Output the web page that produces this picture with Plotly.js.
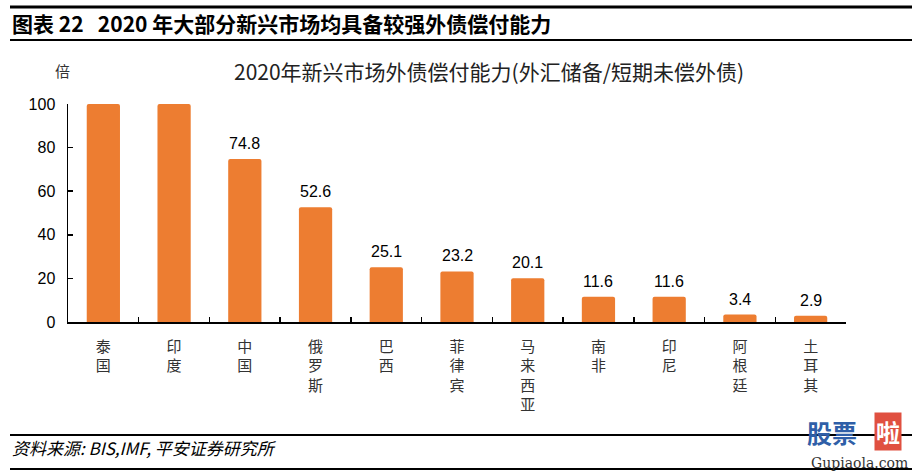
<!DOCTYPE html>
<html><head><meta charset="utf-8">
<script src="https://cdn.plot.ly/plotly-3.0.1.min.js"></script>
<style>html,body{margin:0;padding:0;background:#fff;}#chart{width:919px;height:473px;}</style>
</head><body><div id="chart"></div>
<script>
const categories = ["泰国","印度","中国","俄罗斯","巴西","菲律宾","马来西亚","南非","印尼","阿根廷","土耳其"];
const values = [100,100,74.8,52.6,25.1,23.2,20.1,11.6,11.6,3.4,2.9];
const valueLabels = ["","","74.8","52.6","25.1","23.2","20.1","11.6","11.6","3.4","2.9"];
const yTicks = [0,20,40,60,80,100];

const W=919,H=473,L=68,R=73,T=104,B=151;
const pw=W-L-R, ph=H-T-B;
const px=x=>(x-L)/pw, py=y=>(H-B-y)/ph;

const vertLabels = categories.map(c=>c.split("").join("<br>"));

const data=[{
  type:"bar", x:categories, y:values,
  marker:{color:"#ED7D31",cornerradius:2},
  hoverinfo:"none"
}];
const labelAnns = categories.map((c,i)=>({
  x:c,y:values[i],xref:"x",yref:"y",yanchor:"bottom",xanchor:"center",yshift:5,
  showarrow:false,text:valueLabels[i],
  font:{family:"Liberation Sans, Arial, sans-serif",size:16,color:"#000"}
})).filter(a=>a.text!=="");

const layout={
  width:W,height:H,margin:{l:L,r:R,t:T,b:B},
  paper_bgcolor:"#fff",plot_bgcolor:"#fff",
  showlegend:false,bargap:0.53,
  font:{family:"Liberation Sans, Arial, sans-serif",color:"#000"},
  xaxis:{type:"category",showline:true,linecolor:"#000",linewidth:1.5,
    ticks:"inside",tickson:"boundaries",ticklen:5,tickcolor:"#000",tickwidth:1.5,
    tickvals:categories,ticktext:vertLabels,ticklabelstandoff:10,
    tickfont:{family:"Noto Sans CJK SC",size:15,color:"#333"},
    showgrid:false,zeroline:false,fixedrange:true},
  yaxis:{range:[0,100],showline:true,linecolor:"#000",linewidth:1.5,
    ticks:"inside",ticklen:5,tickcolor:"#000",tickwidth:1.5,tickvals:yTicks,ticklabelstandoff:8,
    tickfont:{family:"Liberation Sans, Arial, sans-serif",size:16,color:"#000"},
    showgrid:false,zeroline:false,fixedrange:true},
  shapes:[
    {type:"line",xref:"paper",yref:"paper",x0:px(10),x1:px(912),y0:py(7),y1:py(7),line:{color:"#000",width:3}},
    {type:"line",xref:"paper",yref:"paper",x0:px(10),x1:px(912),y0:py(40),y1:py(40),line:{color:"#000",width:2}},
    {type:"line",xref:"paper",yref:"paper",x0:px(10),x1:px(912),y0:py(435),y1:py(435),line:{color:"#000",width:2}},
    {type:"line",xref:"paper",yref:"paper",x0:px(10),x1:px(912),y0:py(469),y1:py(469),line:{color:"#000",width:2}}
  ],
  annotations:labelAnns.concat([
    {xref:"paper",yref:"paper",x:px(10),y:py(23),xanchor:"left",yanchor:"middle",showarrow:false,
     text:"<b>图表 22   2020 年大部分新兴市场均具备较强外债偿付能力</b>",
     font:{family:"Noto Sans CJK SC",size:21,color:"#000"}},
    {xref:"paper",yref:"paper",x:px(489),y:py(71),xanchor:"center",yanchor:"middle",showarrow:false,
     text:"2020年新兴市场外债偿付能力(外汇储备/短期未偿外债)",
     font:{family:"Noto Sans CJK SC",size:21,color:"#222"}},
    {xref:"paper",yref:"paper",x:px(62),y:py(70),xanchor:"center",yanchor:"middle",showarrow:false,
     text:"倍",font:{family:"Noto Sans CJK SC",size:15,color:"#333"}},
    {xref:"paper",yref:"paper",x:px(10),y:py(447),xanchor:"left",yanchor:"middle",showarrow:false,
     text:"<i>资料来源: BIS,IMF, 平安证券研究所</i>",
     font:{family:"Noto Sans CJK SC",size:17,color:"#000"}},
    {xref:"paper",yref:"paper",x:px(832),y:py(432),xanchor:"center",yanchor:"middle",showarrow:false,
     text:"<b>股票</b>",font:{family:"Noto Sans CJK SC",size:25,color:"#2f5fa8"}},
    {xref:"paper",yref:"paper",x:px(888),y:py(432),xanchor:"center",yanchor:"middle",showarrow:false,
     text:"<b>啦</b>",bgcolor:"#e05040",borderpad:1,font:{family:"Noto Sans CJK SC",size:24,color:"#fff"}},
    {xref:"paper",yref:"paper",x:px(859),y:py(463),xanchor:"center",yanchor:"middle",showarrow:false,
     text:"Gupiaola.com",font:{family:"DejaVu Serif",size:14,color:"#333"}}
  ])
};
Plotly.newPlot("chart",data,layout,{displayModeBar:false,staticPlot:true});
</script></body></html>
